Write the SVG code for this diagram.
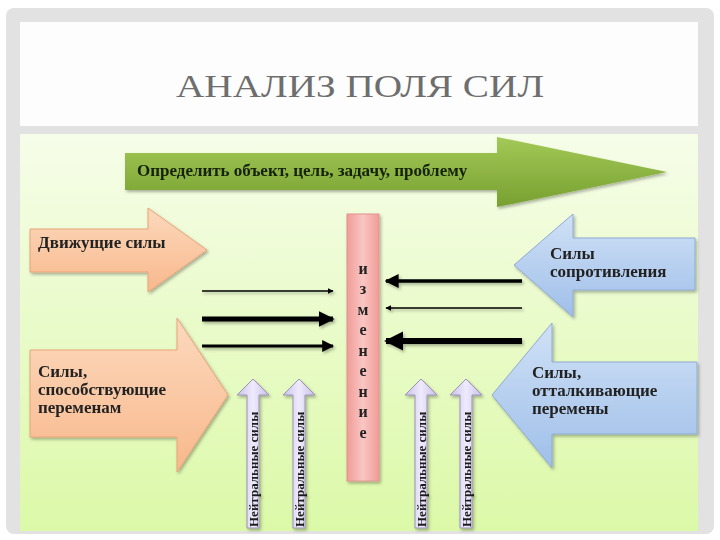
<svg xmlns="http://www.w3.org/2000/svg" width="720" height="540" viewBox="0 0 720 540">
<defs>
  <linearGradient id="bg" x1="0" y1="0" x2="0" y2="1">
    <stop offset="0" stop-color="#f6fde9"/>
    <stop offset="1" stop-color="#dcf9a8"/>
  </linearGradient>
  <linearGradient id="gGreen" x1="0" y1="0" x2="0" y2="1">
    <stop offset="0" stop-color="#a3c957"/>
    <stop offset="1" stop-color="#77a030"/>
  </linearGradient>
  <linearGradient id="gOrange" x1="0" y1="0" x2="0" y2="1">
    <stop offset="0" stop-color="#fcd9bd"/>
    <stop offset="1" stop-color="#f8b88c"/>
  </linearGradient>
  <linearGradient id="gBlue" x1="0" y1="0" x2="0" y2="1">
    <stop offset="0" stop-color="#d0e1f6"/>
    <stop offset="1" stop-color="#9fbfe9"/>
  </linearGradient>
  <linearGradient id="gPink" x1="0" y1="0" x2="1" y2="0">
    <stop offset="0" stop-color="#f19c98"/>
    <stop offset="0.5" stop-color="#f9c6c3"/>
    <stop offset="1" stop-color="#f19c98"/>
  </linearGradient>
  <linearGradient id="gPurple" x1="0" y1="0" x2="1" y2="0">
    <stop offset="0" stop-color="#c9c0ea"/>
    <stop offset="0.5" stop-color="#efebfc"/>
    <stop offset="1" stop-color="#c9c0ea"/>
  </linearGradient>
  <filter id="sh" x="-10%" y="-10%" width="125%" height="125%">
    <feDropShadow dx="1.5" dy="2" stdDeviation="1.5" flood-color="#000" flood-opacity="0.3"/>
  </filter>
  <marker id="hThin" viewBox="0 0 10 10" refX="9" refY="5" markerWidth="6" markerHeight="6" markerUnits="userSpaceOnUse" orient="auto">
    <path d="M0,0 L10,5 L0,10 z" fill="#000"/>
  </marker>
  <marker id="hMed" viewBox="0 0 10 10" refX="9" refY="5" markerWidth="4" markerHeight="4" orient="auto">
    <path d="M0,0 L10,5 L0,10 z" fill="#000"/>
  </marker>
  <marker id="hThick" viewBox="0 0 10 10" refX="9" refY="5" markerWidth="3.2" markerHeight="3.2" orient="auto">
    <path d="M0,0 L10,5 L0,10 z" fill="#000"/>
  </marker>
  <style>
    .ttl { font-family: "Liberation Serif", "DejaVu Serif", serif; font-size: 32px; fill: #6e6e6e; }
    .lbl { font-family: "Liberation Serif", "DejaVu Serif", serif; font-size: 17px; font-weight: bold; fill: #222; }
    .neu { font-family: "Liberation Serif", "DejaVu Serif", serif; font-size: 13px; font-weight: bold; fill: #1d1d1d; }
    .chg { font-family: "Liberation Serif", "DejaVu Serif", serif; font-size: 16px; font-weight: bold; fill: #222; }
    .or { fill: url(#gOrange); stroke: #e8a478; stroke-width: 1; }
    .bl { fill: url(#gBlue); stroke: #8eaad3; stroke-width: 1; }
    .pu { fill: url(#gPurple); stroke: #9a92b8; stroke-width: 1; }
    .ln { stroke: #000; fill: none; }
  </style>
</defs>

<!-- frame -->
<rect x="6" y="8" width="708" height="526" rx="8" fill="#e2e2e2"/>
<rect x="20" y="22" width="678" height="104" fill="#fdfdfd"/>
<rect x="20" y="134" width="678" height="397" fill="url(#bg)"/>
<text class="ttl" x="360" y="97" text-anchor="middle" textLength="368" lengthAdjust="spacingAndGlyphs">АНАЛИЗ ПОЛЯ СИЛ</text>

<g id="goal" filter="url(#sh)">
  <path d="M125,153 H497 V137 L667,172 L497,207 V190 H125 Z" fill="url(#gGreen)"/>
  <text class="lbl" x="137" y="176" style="fill:#13200a">Определить объект, цель, задачу, проблему</text>
</g>

<g id="driving" filter="url(#sh)">
  <path class="or" d="M30,229 H148 V208 L207,250 L148,292 V272 H30 Z"/>
  <text class="lbl" x="38" y="248">Движущие силы</text>
</g>

<g id="promoting" filter="url(#sh)">
  <path class="or" d="M30,350 H177 V318 L228,395 L177,472 V437 H30 Z"/>
  <text class="lbl" x="38" y="377">Силы,</text>
  <text class="lbl" x="38" y="395">способствующие</text>
  <text class="lbl" x="38" y="413">переменам</text>
</g>

<g id="resistance" filter="url(#sh)">
  <path class="bl" d="M695,238 H573 V214 L514,265 L573,317 V290 H695 Z"/>
  <text class="lbl" x="550" y="259">Силы</text>
  <text class="lbl" x="550" y="277">сопротивления</text>
</g>

<g id="repelling" filter="url(#sh)">
  <path class="bl" d="M697,362 H552 V323 L492,395 L552,468 V434 H697 Z"/>
  <text class="lbl" x="532" y="378">Силы,</text>
  <text class="lbl" x="532" y="396">отталкивающие</text>
  <text class="lbl" x="532" y="414">перемены</text>
</g>

<g id="change" filter="url(#sh)">
  <rect x="347" y="214" width="32" height="267" fill="url(#gPink)" stroke="#e09490" stroke-width="1"/>
  <text class="chg" text-anchor="middle" x="363" y="274">и</text>
  <text class="chg" text-anchor="middle" x="363" y="294">з</text>
  <text class="chg" text-anchor="middle" x="363" y="315">м</text>
  <text class="chg" text-anchor="middle" x="363" y="335">е</text>
  <text class="chg" text-anchor="middle" x="363" y="356">н</text>
  <text class="chg" text-anchor="middle" x="363" y="376">е</text>
  <text class="chg" text-anchor="middle" x="363" y="397">н</text>
  <text class="chg" text-anchor="middle" x="363" y="417">и</text>
  <text class="chg" text-anchor="middle" x="363" y="438">е</text>
</g>

<g id="neutral1" filter="url(#sh)">
  <path class="pu" d="M247,528 V395 H237 L253,379 L269,395 H259 V528 Z"/>
  <text class="neu" transform="translate(257.5,527) rotate(-90)">Нейтральные силы</text>
</g>
<g id="neutral2" filter="url(#sh)">
  <path class="pu" d="M293,528 V395 H283 L299,379 L315,395 H305 V528 Z"/>
  <text class="neu" transform="translate(303.5,527) rotate(-90)">Нейтральные силы</text>
</g>
<g id="neutral3" filter="url(#sh)">
  <path class="pu" d="M415,528 V395 H405 L421,379 L437,395 H427 V528 Z"/>
  <text class="neu" transform="translate(425.5,527) rotate(-90)">Нейтральные силы</text>
</g>
<g id="neutral4" filter="url(#sh)">
  <path class="pu" d="M460,528 V395 H450 L466,379 L482,395 H472 V528 Z"/>
  <text class="neu" transform="translate(470.5,527) rotate(-90)">Нейтральные силы</text>
</g>

<g id="connectors" filter="url(#sh)">
  <line class="ln" x1="202" y1="291" x2="333" y2="291" stroke-width="1.5" marker-end="url(#hThin)"/>
  <line class="ln" x1="202" y1="319" x2="333" y2="319" stroke-width="5" marker-end="url(#hThick)"/>
  <line class="ln" x1="202" y1="346" x2="333" y2="346" stroke-width="3" marker-end="url(#hMed)"/>
  <line class="ln" x1="522" y1="281" x2="386" y2="281" stroke-width="3.5" marker-end="url(#hMed)"/>
  <line class="ln" x1="522" y1="308" x2="386" y2="308" stroke-width="1.5" marker-end="url(#hThin)"/>
  <line class="ln" x1="522" y1="341" x2="386" y2="341" stroke-width="6" marker-end="url(#hThick)"/>
</g>
</svg>
